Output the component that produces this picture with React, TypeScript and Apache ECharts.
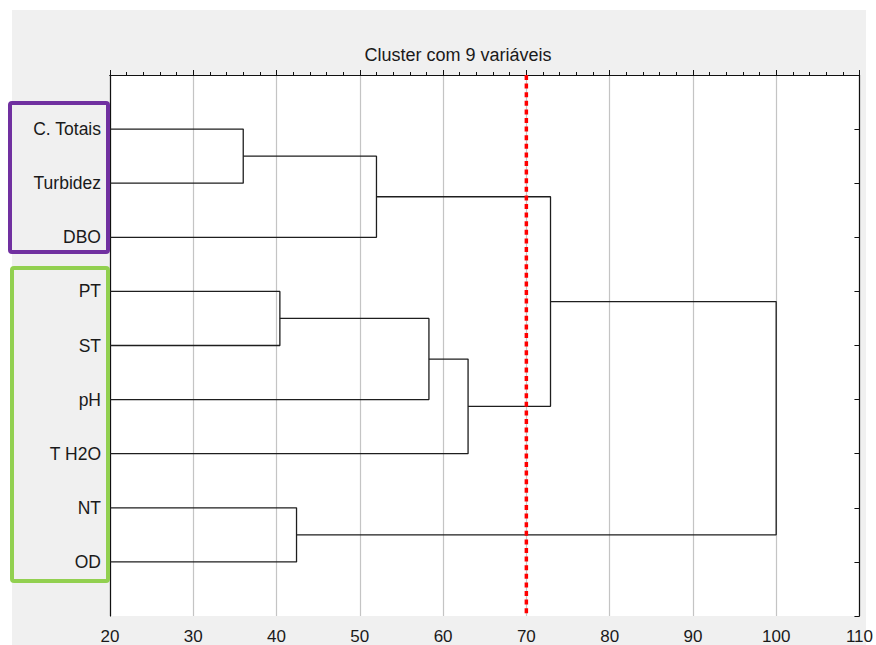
import React, { useEffect, useRef } from "react";
import * as echarts from "echarts";

const labels = ["C. Totais", "Turbidez", "DBO", "PT", "ST", "pH", "T H2O", "NT", "OD"];
// merges: [clusterA, clusterB, linkage distance]; leaves 0..8, new clusters numbered from 9
const merges: [number, number, number][] = [
  [0, 1, 36],
  [9, 2, 52],
  [3, 4, 40.4],
  [11, 5, 58.3],
  [12, 6, 63],
  [7, 8, 42.4],
  [10, 13, 72.9],
  [15, 14, 100],
];
const xTicks = [20, 30, 40, 50, 60, 70, 80, 90, 100, 110];
const cutoff = 70;
const title = "Cluster com 9 variáveis";

const FONT = "'Liberation Sans', Arial, sans-serif";

function buildSeries() {
  const xMin = xTicks[0];
  const pos: { y: number; h: number }[] = labels.map((_, i) => ({ y: i + 1, h: xMin }));
  const series: any[] = [];
  merges.forEach(([a, b, h], k) => {
    const A = pos[a];
    const B = pos[b];
    series.push({
      type: "line",
      name: "m" + k,
      data: [
        [A.h, A.y],
        [h, A.y],
        [h, B.y],
        [B.h, B.y],
      ],
      symbol: "none",
      lineStyle: { color: "#1e1e1e", width: 1.3 },
      silent: true,
      z: 3,
    });
    pos.push({ y: (A.y + B.y) / 2, h });
  });
  series.push({
    type: "line",
    name: "cut",
    data: [
      [cutoff, 0],
      [cutoff, labels.length + 1],
    ],
    symbol: "none",
    lineStyle: { color: "#ff0000", width: 3.5, type: [5, 3.6] },
    silent: true,
    z: 4,
  });
  return series;
}

export default function App() {
  const ref = useRef<HTMLDivElement>(null);
  useEffect(() => {
    if (!ref.current) return;
    const chart = echarts.init(ref.current, undefined, { renderer: "svg" });
    const n = labels.length;
    const axisCommon = {
      type: "value",
      min: xTicks[0],
      max: xTicks[xTicks.length - 1],
      interval: 10,
    };
    chart.setOption({
      animation: false,
      backgroundColor: "#ffffff",
      title: {
        text: title,
        left: 453,
        top: 41,
        textAlign: "center",
        textStyle: { fontFamily: FONT, fontSize: 18, fontWeight: "normal", color: "#1a1a1a" },
      },
      graphic: [
        {
          type: "rect",
          z: -10,
          shape: { x: 12, y: 10, width: 854, height: 640 },
          style: { fill: "#f0f0f0" },
          silent: true,
        },
        {
          type: "rect",
          z: 100,
          shape: { x: 10, y: 103, width: 98, height: 149, r: 2 },
          style: { fill: "none", stroke: "#7030a0", lineWidth: 4 },
          silent: true,
        },
        {
          type: "rect",
          z: 100,
          shape: { x: 12, y: 268, width: 96, height: 313, r: 2 },
          style: { fill: "none", stroke: "#92d050", lineWidth: 4 },
          silent: true,
        },
      ],
      grid: { left: 110, top: 75, width: 750, height: 541, backgroundColor: "#ffffff", show: true, borderWidth: 0 },
      xAxis: [
        {
          ...axisCommon,
          position: "bottom",
          axisLine: { show: true, lineStyle: { color: "#111", width: 1.2 } },
          axisTick: { show: true, inside: true, length: 5, lineStyle: { color: "#111" } },
          minorTick: { show: true, splitNumber: 5, length: 3, lineStyle: { color: "#111" } },
          splitLine: { show: true, lineStyle: { color: "#c4c4c4", width: 1.2 } },
          axisLabel: { fontFamily: FONT, fontSize: 17, color: "#1a1a1a", margin: 12 },
        },
        {
          ...axisCommon,
          position: "top",
          axisLine: { show: true, lineStyle: { color: "#111", width: 1.2 } },
          axisTick: { show: true, inside: false, length: 5, lineStyle: { color: "#111" } },
          minorTick: { show: true, splitNumber: 5, length: 3, lineStyle: { color: "#111" } },
          splitLine: { show: false },
          axisLabel: { show: false },
        },
      ],
      yAxis: [
        {
          type: "value",
          min: 0,
          max: n + 1,
          interval: 1,
          inverse: true,
          position: "left",
          axisLine: { show: true, lineStyle: { color: "#111", width: 1.2 } },
          axisTick: { show: false },
          splitLine: { show: false },
          axisLabel: {
            fontFamily: FONT,
            fontSize: 17.5,
            color: "#1a1a1a",
            margin: 9,
            formatter: (v: number) => (v >= 1 && v <= n ? labels[v - 1] : ""),
          },
        },
        {
          type: "value",
          min: 0,
          max: n + 1,
          interval: 1,
          inverse: true,
          position: "right",
          axisLine: { show: true, lineStyle: { color: "#111", width: 1.2 } },
          axisTick: { show: true, inside: true, length: 5, lineStyle: { color: "#111" } },
          splitLine: { show: false },
          axisLabel: { show: false },
        },
      ],
      series: buildSeries(),
    });
    return () => chart.dispose();
  }, []);
  return (
    <div
      ref={ref}
      style={{ position: "absolute", left: 0, top: 0, width: 876, height: 645 }}
    />
  );
}
